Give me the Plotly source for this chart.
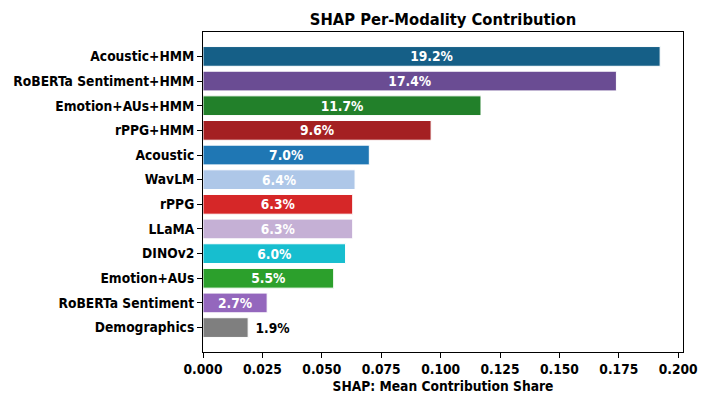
import plotly.graph_objects as go

categories = ["Acoustic+HMM", "RoBERTa Sentiment+HMM", "Emotion+AUs+HMM", "rPPG+HMM",
              "Acoustic", "WavLM", "rPPG", "LLaMA", "DINOv2", "Emotion+AUs",
              "RoBERTa Sentiment", "Demographics"]
values = [0.1924, 0.174, 0.117, 0.096, 0.070, 0.064, 0.063, 0.063, 0.060, 0.055, 0.027, 0.019]
colors = ["#155f87", "#6a4c93", "#22802a", "#a42022", "#1f77b4", "#aec7e8",
          "#d62728", "#c5b0d5", "#17becf", "#2ca02c", "#9467bd", "#7f7f7f"]
xticks = [0.000, 0.025, 0.050, 0.075, 0.100, 0.125, 0.150, 0.175, 0.200]

FONT = "DejaVu Sans Condensed, DejaVu Sans"
labels = [f"{v*100:.1f}%" if v > 0.025 else f" {v*100:.1f}%" for v in values]
positions = ["inside" if v > 0.025 else "outside" for v in values]

# page body has an 8px default margin; figure sized so it fills the 710x405 window
W, H = 702, 397
L, R, T, B = 195, 27, 24, 53

fig = go.Figure(go.Bar(
    x=values, y=categories, orientation="h",
    marker=dict(color=colors, line=dict(color="white", width=1)),
    width=0.8,
    text=labels, textposition=positions, insidetextanchor="middle",
    constraintext="none",
    insidetextfont=dict(family=FONT, size=13.7, color="white", weight="bold"),
    outsidetextfont=dict(family=FONT, size=13.7, color="black", weight="bold"),
    textangle=0, cliponaxis=False,
))

xmax = max(values) * 1.05
fig.update_layout(
    width=W, height=H,
    margin=dict(l=L, r=R, t=T, b=B, autoexpand=False),
    plot_bgcolor="white", paper_bgcolor="white",
    font=dict(family=FONT, size=13.7, color="black", weight="bold"),
    title=dict(text="SHAP Per-Modality Contribution", x=(L + (W - R)) / 2 / W, xanchor="center",
               y=1 - 11 / H, yanchor="middle",
               font=dict(family=FONT, size=16.4, color="black", weight="bold")),
    showlegend=False,
    uniformtext=dict(mode=False),
)
fig.update_xaxes(range=[0, xmax], tickvals=xticks, ticktext=[f"{t:.3f}" for t in xticks],
                 showgrid=False, zeroline=False, showline=True, linecolor="black", linewidth=1,
                 mirror=True, ticks="outside", ticklen=5, tickcolor="black",
                 ticklabelstandoff=0,
                 title=dict(text="SHAP: Mean Contribution Share", standoff=4,
                            font=dict(family=FONT, size=13.7, weight="bold")),
                 tickfont=dict(family=FONT, size=13.7, weight="bold"))
fig.update_yaxes(categoryorder="array", categoryarray=categories, autorange=False,
                 range=[len(categories) - 1 + 0.99, -0.99],
                 showgrid=False, zeroline=False, showline=True, linecolor="black", linewidth=1,
                 mirror=True, ticks="outside", ticklen=5, tickcolor="black",
                 tickfont=dict(family=FONT, size=13.7, weight="bold"))

fig.write_html("out.html")
